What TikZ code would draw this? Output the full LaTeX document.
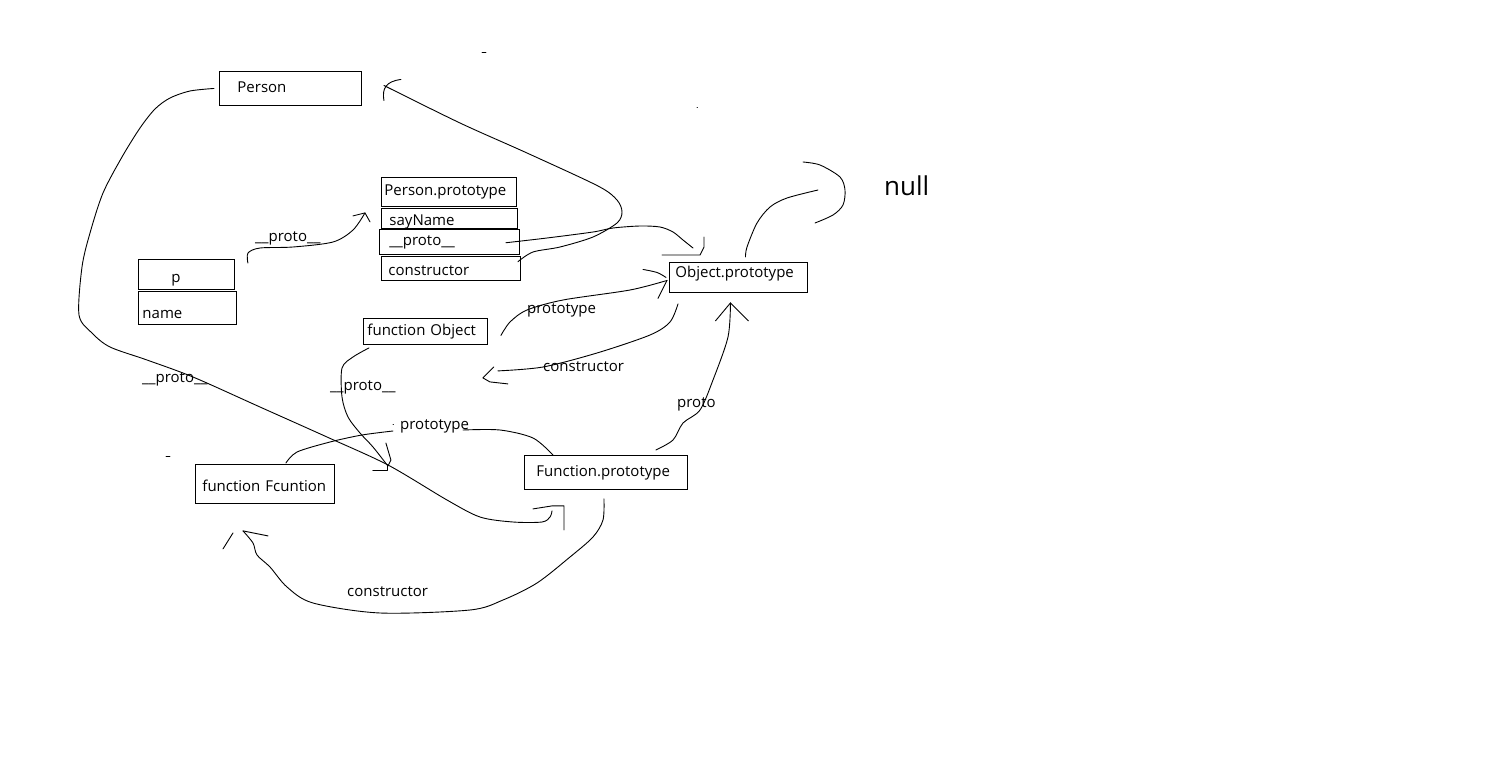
\documentclass[tikz,border=0pt]{standalone}
\usepackage{fontspec}
\setmainfont{Open Sans}
\usetikzlibrary{positioning,calc}
\tikzset{
    box/.style={
        draw=black,
        rectangle,
        line width=0.9pt,
        anchor=north west,
        inner ysep=0pt,
        align=left,
        text height=11pt,
        text depth=3pt,
        font=\fontsize{15}{18}\selectfont
    },
    lbl/.style={
        anchor=base west,
        inner sep=0pt,
        font=\fontsize{15}{18}\selectfont
    },
    hand/.style={
        draw=black,
        line width=0.9pt,
        line cap=round,
        line join=round
    }
}

\begin{document}
\begin{tikzpicture}[x=1pt, y=-1pt]
    \useasboundingbox (0,0) rectangle (1488,781);

    % Person, p and Person.prototype
    \node[box, text width=106pt, inner xsep=18pt, minimum height=34pt] (person) at (219,71) {Person};
    \node[box, text width=30pt, inner xsep=33pt, minimum height=30pt, text height=17pt, text depth=0pt] (pbox) at (138,259) {p};
    \node[box, below=1pt of pbox.south west, anchor=north west, text width=90pt, inner xsep=4pt,
        minimum height=33pt, text height=21pt, text depth=0pt] (namebox) {name};
    \node[box, text width=129pt, inner xsep=3pt, minimum height=29pt] (pproto) at (381,177) {Person.prototype};
    \node[box, below=1pt of pproto.south west, anchor=north west, text width=120pt, inner xsep=8pt,
        minimum height=20pt, text height=15pt, text depth=0pt] (sayname) {sayName};
    \node[box, xshift=-2pt, text width=120pt, inner xsep=10pt, minimum height=25pt] (protobox)
        at (sayname.south west) {\_\_proto\_\_};
    \node[box, below=1pt of protobox.south west, anchor=north west, xshift=2pt, text width=125pt, inner xsep=7pt,
        minimum height=24pt, text height=15pt, text depth=0pt] (ctorbox) {constructor};

    % functions and their prototypes
    \node[box, text width=116pt, inner xsep=4pt, minimum height=26pt] (fobj) at (363,318) {function~Object};
    \node[box, text width=126pt, inner xsep=6pt, minimum height=30pt, text height=4pt, text depth=4pt] (oproto)
        at (669,262) {Object.prototype};
    \node[box, text width=139pt, inner xsep=12pt, minimum height=34pt] (fproto) at (524,455) {Function.prototype};
    \node[box, text width=125pt, inner xsep=7pt, minimum height=39pt, text height=15pt, text depth=0pt] (ffunc)
        at (195,464) {function~Fcuntion};
    \node[lbl, font=\fontsize{26}{30}\selectfont] (null) at (884,195) {null};

    % labels
    \node[lbl] (lpp) at (255,241) {\_\_proto\_\_};
    \node[lbl] (lperson) at (142,382) {\_\_proto\_\_};
    \node[lbl] (lfobj) at (330,390) {\_\_proto\_\_};
    \node[lbl] (lfprot) at (400,429) {prototype};
    \node[lbl] (loprot) at (527,313) {prototype};
    \node[lbl] (loctor) at (543,371) {constructor};
    \node[lbl] (lproto) at (677,407) {proto};
    \node[lbl] (lfctor) at (347,596) {constructor};

    % ends of the strokes
    \coordinate (t1) at ($(fproto.south west)+(28,21)$);
    \coordinate (t2) at ($(pproto.south west)+(-16,6)$);
    \coordinate (t3) at ($(oproto.north west)+(24,-14)$);
    \coordinate (t4) at ($(person.east)+(22,-3)$);
    \coordinate (t6) at ($(oproto.west)+(-2,3)$);
    \coordinate (t7) at ($(fobj.south east)+(-5,33)$);
    \coordinate (t8) at ($(oproto.south)+(-8,10)$);
    \coordinate (t9) at ($(ffunc.north east)+(53,2)$);
    \coordinate (t11) at ($(ffunc.south west)+(48,27)$);

    % Person -> Function.prototype
    \draw[hand] plot[smooth] coordinates {($(person.west)+(-5,0)$) (190,91) (170,98) (155,109) (140,128) (122,157) (103,193)
        (90,233) (82,267) (79,315) (92,333) (110,347) (147,360) (193,377) (260,407) (327,437) (388,465)
        (447,500) (480,517) (513,522) (542,522) (550,517) (t1)};
    \draw[hand] (t1) +(-19,-2) -- +(0,-5) -- +(12,-5) -- +(12,19);

    % p -> Person.prototype
    \draw[hand] plot[smooth] coordinates {($(pbox.north east)+(13,4)$) (248,253) (260,248) (293,247) (333,242) (353,230) (t2)};
    \draw[hand] (t2) +(-12,3) -- (t2) -- +(5,9);

    % Person.prototype -> Object.prototype
    \draw[hand] plot[smooth] coordinates {($(protobox.east)+(-14,1)$) (547,238) (593,232) (613,228) (640,226)
        (660,227) (673,232) (683,240) (t3)};
    \draw[hand] (t3) +(-31,7) -- +(7,7) -- +(11,-1) -- +(11,-11);

    % constructor -> Person
    \draw[hand] plot[smooth] coordinates {($(ctorbox.north east)+(-3,6)$) (533,252) (560,247) (593,237) (617,223)
        (622,212) (617,200) (598,186) (527,153) (460,123) (t4)};
    \draw[hand] ($(t4)+(17,-6)$) .. controls ($(t4)+(2,-4)$) and ($(t4)+(-2,3)$) .. ($(t4)+(0,15)$);

    % Object.prototype -> null
    \draw[hand] plot[smooth] coordinates {($(oproto.north)+(7,-5)$) (747,247) (757,223) (770,207) (787,198) (818,190)};
    \draw[hand] plot[smooth] coordinates {(803,162) (820,165) (840,177) (845,190) (843,205) (833,215) (815,223)};

    % function Object <-> Object.prototype
    \draw[hand] plot[smooth] coordinates {($(fobj.east)+(13,4)$) (510,322) (527,310) (563,300) (630,290) (t6)};
    \draw[hand] plot[smooth] coordinates {($(t6)+(-24,-11)$) ($(t6)+(-10,-8)$) ($(t6)+(-1,-3)$)};
    \draw[hand] (t6) -- +(-9,18);
    \draw[hand] plot[smooth] coordinates {($(oproto.south west)+(9,11)$) (670,322) (650,335) (597,353) (543,367) ($(t7)+(15,-7)$)};
    \draw[hand] (t7) +(11,-11) -- (t7) -- +(7,4) -- +(25,6);

    % Function.prototype -> Object.prototype
    \draw[hand] plot[smooth] coordinates {($(fproto.north east)+(-32,-5)$) (673,440) (683,423) (700,410) (713,380) (728,337) (t8)};
    \draw[hand] (t8) +(-15,18) -- (t8) -- +(18,18);

    % function Object -> __proto__
    \draw[hand] plot[smooth] coordinates {($(fobj.south west)+(6,3)$) (353,357) (342,368) (342,397) (348,417)
        (360,433) (373,447) (t9)};
    \draw[hand] (t9) +(-2,-23) -- +(3,-6) -- (t9);
    \draw[hand] (t9) +(-15,4) -- +(0,4) -- (t9);

    % function Fcuntion <-> Function.prototype
    \draw[hand] plot[smooth] coordinates {($(ffunc.north)+(21,-1)$) (297,452) (330,442) (362,435) (393,431)};
    \draw[hand] plot[smooth] coordinates {(463,430) (500,430) (533,438) ($(fproto.north west)+(29,0)$)};
    \draw[hand] plot[smooth] coordinates {($(fproto.south)+(-2,9)$) (603,520) (593,537) (570,557) (537,583) (503,600)
        (470,610) (380,613) (313,603) (287,587) (270,567) (257,555) (253,543) (t11)};
    \draw[hand] (t11) -- +(25,5);
    \draw[hand] (t11) +(-10,2) -- +(-20,18);

    % stray marks
    \draw[hand] (393,424) -- (393.5,424);
    \draw[hand] (482,52) -- (486,52);
    \draw[hand] (697,107) -- (697.5,107);
    \draw[hand] (166,456) -- (170,456);
\end{tikzpicture}
\end{document}
